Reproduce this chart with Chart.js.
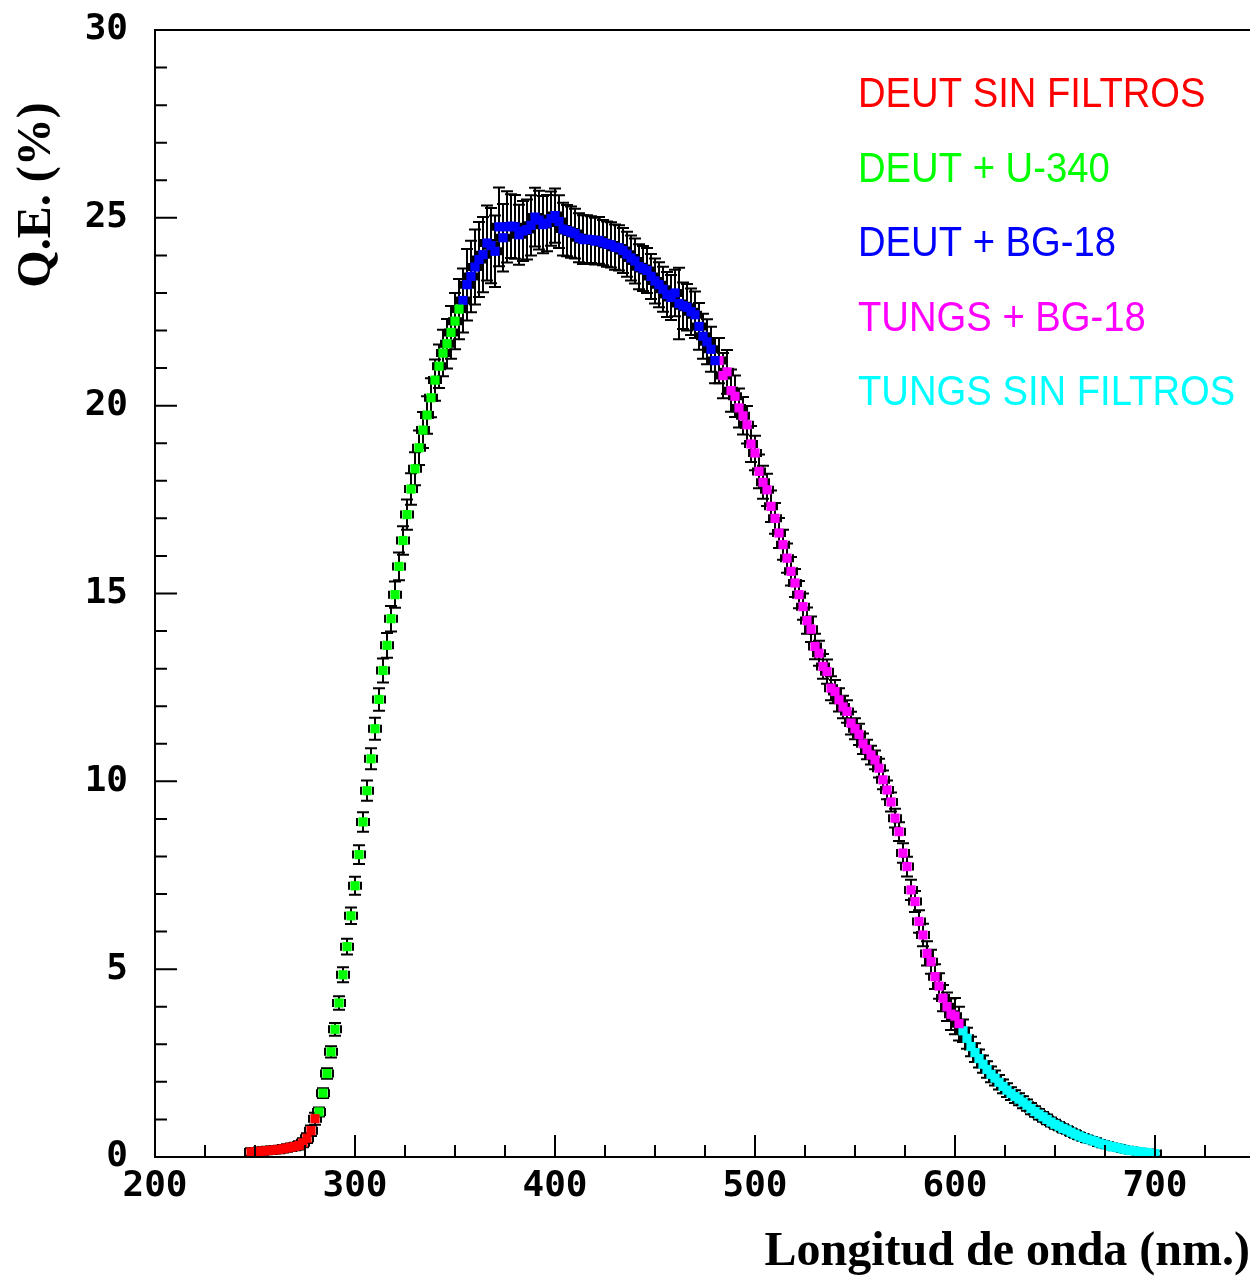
<!DOCTYPE html>
<html>
<head>
<meta charset="utf-8">
<script src="https://cdn.jsdelivr.net/npm/chart.js@4.4.1/dist/chart.umd.min.js"></script>
<style>
  html, body { margin: 0; padding: 0; background: #fff; }
</style>
</head>
<body>
<canvas id="qe" width="1250" height="1276"></canvas>
<script>
// wavelength (nm), Q.E. (%) and error, one group per lamp/filter run
const redWl  = [248,250,252,254,256,258,260,262,264,266,268,270,272,274,276,278,280];
const redQe  = [0.13,0.14,0.15,0.16,0.17,0.18,0.19,0.20,0.22,0.24,0.26,0.28,0.31,0.38,0.50,0.70,1.02];
const redErr = [0.1,0.1,0.1,0.1,0.1,0.1,0.1,0.1,0.1,0.1,0.1,0.1,0.11,0.12,0.13,0.14,0.16];

const greenWl  = [282,284,286,288,290,292,294,296,298,300,302,304,306,308,310,312,314,316,318,320,
                  322,324,326,328,330,332,334,336,338,340,342,344,346,348,350,352];
const greenQe  = [1.20,1.70,2.22,2.80,3.40,4.10,4.85,5.60,6.42,7.22,8.05,8.92,9.75,10.60,11.40,12.18,12.95,13.62,14.33,14.97,
                  15.72,16.41,17.10,17.78,18.32,18.88,19.35,19.75,20.21,20.68,21.05,21.40,21.65,21.95,22.25,22.57];
const greenErr = [0.12,0.13,0.14,0.15,0.17,0.18,0.2,0.21,0.22,0.24,0.25,0.26,0.27,0.28,0.29,0.3,0.32,0.33,0.34,0.35,
                  0.37,0.38,0.4,0.42,0.44,0.46,0.48,0.5,0.52,0.55,0.58,0.62,0.66,0.7,0.75,0.8];

const blueWl  = [354,356,358,360,362,364,366,368,370,372,374,376,378,380,382,384,386,388,390,392,394,396,398,400,
                 402,404,406,408,410,412,414,416,418,420,422,424,426,428,430,432,434,436,438,440,442,444,446,448,450,
                 452,454,456,458,460,462,464,466,468,470,472,474,476,478,480];
const blueQe  = [22.80,23.22,23.44,23.69,23.89,24.02,24.33,24.26,24.11,24.76,24.47,24.76,24.78,24.76,24.55,24.65,24.69,24.80,25.02,24.94,24.82,24.86,24.98,25.06,
                 24.90,24.70,24.66,24.62,24.58,24.47,24.42,24.43,24.42,24.38,24.40,24.34,24.30,24.28,24.22,24.20,24.13,24.03,23.93,23.85,23.70,23.65,23.60,23.44,23.32,
                 23.22,23.10,22.96,22.88,23.00,22.72,22.66,22.62,22.50,22.42,22.11,21.85,21.70,21.50,21.20];
const blueErr = [0.85,0.95,0.95,1.0,1.0,1.0,1.0,1.0,0.95,1.05,0.9,0.95,0.85,0.85,0.8,0.8,0.8,0.8,0.78,0.78,0.76,0.75,0.72,0.72,
                 0.7,0.7,0.68,0.68,0.66,0.65,0.65,0.64,0.62,0.62,0.62,0.6,0.6,0.6,0.6,0.6,0.6,0.6,0.6,0.6,0.6,0.6,0.6,0.6,0.6,
                 0.6,0.6,0.6,0.6,0.62,0.95,0.62,0.62,0.62,0.62,0.62,0.6,0.6,0.6,0.6];

const magWl  = [482,484,486,488,490,492,494,496,498,500,502,504,506,508,510,512,514,516,518,520,
                522,524,526,528,530,532,534,536,538,540,542,544,546,548,550,552,554,556,558,560,
                562,564,566,568,570,572,574,576,578,580,582,584,586,588,590,592,594,596,598,600,602];
const magQe  = [21.20,20.80,20.90,20.40,20.25,19.94,19.73,19.49,18.98,18.74,18.25,17.96,17.76,17.32,17.00,16.61,16.30,15.94,15.59,15.28,
                14.97,14.65,14.28,14.05,13.59,13.41,13.06,12.92,12.48,12.39,12.17,11.98,11.86,11.55,11.40,11.25,11.00,10.85,10.70,10.57,
                10.35,10.04,9.77,9.45,9.02,8.66,8.09,7.73,7.11,6.80,6.27,5.91,5.42,5.20,4.80,4.55,4.23,4.00,3.80,3.75,3.55];
const magErr = [0.6,0.6,0.58,0.56,0.55,0.52,0.5,0.5,0.48,0.46,0.45,0.44,0.43,0.42,0.41,0.4,0.4,0.39,0.38,0.37,
                0.36,0.35,0.35,0.34,0.34,0.33,0.33,0.32,0.32,0.31,0.31,0.3,0.3,0.3,0.28,0.28,0.27,0.26,0.25,0.25,
                0.25,0.25,0.25,0.25,0.25,0.25,0.26,0.26,0.27,0.28,0.3,0.3,0.32,0.32,0.33,0.34,0.35,0.38,0.42,0.48,0.45];

const cyanWl  = [604,606,608,610,612,614,616,618,620,622,624,626,628,630,632,634,636,638,640,642,644,646,648,650,652,
                 654,656,658,660,662,664,666,668,670,672,674,676,678,680,682,684,686,688,690,692,694,696,698,700];
const cyanQe  = [3.36,3.16,2.94,2.78,2.62,2.47,2.33,2.20,2.10,1.99,1.88,1.78,1.69,1.61,1.54,1.46,1.38,1.29,1.21,1.14,1.07,1.00,0.93,0.87,0.82,
                 0.76,0.72,0.66,0.61,0.56,0.52,0.48,0.45,0.42,0.37,0.34,0.31,0.28,0.26,0.24,0.21,0.19,0.17,0.16,0.14,0.13,0.12,0.10,0.09];
const cyanErr = [0.3,0.28,0.26,0.25,0.24,0.23,0.22,0.21,0.2,0.19,0.18,0.18,0.17,0.17,0.16,0.16,0.15,0.15,0.14,0.14,0.13,0.13,0.12,0.12,0.11,
                 0.11,0.1,0.1,0.1,0.09,0.09,0.09,0.08,0.08,0.08,0.08,0.07,0.07,0.07,0.07,0.07,0.06,0.06,0.06,0.06,0.06,0.06,0.06,0.06];

const xTicks = [200,300,400,500,600,700];
const xMinor = [225,250,275,325,350,375,425,450,475,525,550,575,625,650,675,725];
const yTicks = [0,5,10,15,20,25,30];
const yMinor = [1,2,3,4,6,7,8,9,11,12,13,14,16,17,18,19,21,22,23,24,26,27,28,29];

function pts(wl, qe){ return wl.map((w, i) => ({x: w, y: qe[i]})); }

function series(label, color, wl, qe, err){
  return {
    label: label,
    data: pts(wl, qe),
    errors: err,
    showLine: false,
    pointStyle: 'rect',
    pointRadius: 6.5,
    pointHoverRadius: 6.5,
    pointBorderWidth: 0,
    backgroundColor: color,
    borderColor: color
  };
}

// black vertical error bars with caps, drawn under the markers
const errorBars = {
  id: 'errorBars',
  beforeDatasetsDraw(chart){
    const ctx = chart.ctx, xs = chart.scales.x, ys = chart.scales.y;
    ctx.save();
    ctx.strokeStyle = '#000';
    ctx.lineWidth = 2;
    chart.data.datasets.forEach(ds => {
      ds.data.forEach((p, i) => {
        const e = ds.errors[i];
        const px = xs.getPixelForValue(p.x);
        const top = ys.getPixelForValue(p.y + e), bot = ys.getPixelForValue(p.y - e);
        const py = ys.getPixelForValue(p.y);
        ctx.beginPath();
        ctx.moveTo(px, top); ctx.lineTo(px, bot);
        ctx.moveTo(px - 6, top); ctx.lineTo(px + 6, top);
        ctx.moveTo(px - 6, bot); ctx.lineTo(px + 6, bot);
        ctx.moveTo(px - 6, py - 4); ctx.lineTo(px - 6, py + 4);
        ctx.moveTo(px + 6, py - 4); ctx.lineTo(px + 6, py + 4);
        ctx.stroke();
      });
    });
    ctx.restore();
  }
};

// frame, inward tick marks, axis titles and the text legend
const decor = {
  id: 'decor',
  afterDraw(chart){
    const ctx = chart.ctx, a = chart.chartArea, xs = chart.scales.x, ys = chart.scales.y;
    ctx.save();
    ctx.strokeStyle = '#000';
    ctx.lineWidth = 2;
    ctx.beginPath();
    ctx.moveTo(a.right, a.top); ctx.lineTo(a.left, a.top);
    ctx.lineTo(a.left, a.bottom); ctx.lineTo(a.right, a.bottom);
    xTicks.forEach(v => { const x = xs.getPixelForValue(v); ctx.moveTo(x, a.bottom); ctx.lineTo(x, a.bottom - 22); });
    xMinor.forEach(v => { const x = xs.getPixelForValue(v); ctx.moveTo(x, a.bottom); ctx.lineTo(x, a.bottom - 12); });
    yTicks.forEach(v => { const y = ys.getPixelForValue(v); ctx.moveTo(a.left, y); ctx.lineTo(a.left + 22, y); });
    yMinor.forEach(v => { const y = ys.getPixelForValue(v); ctx.moveTo(a.left, y); ctx.lineTo(a.left + 12, y); });
    ctx.stroke();

    ctx.fillStyle = '#000';
    ctx.font = 'bold 48px "Liberation Serif"';
    ctx.textAlign = 'right';
    ctx.textBaseline = 'alphabetic';
    ctx.fillText('Longitud de onda (nm.)', 1250, 1265);
    ctx.save();
    ctx.translate(50, 195);
    ctx.rotate(-Math.PI / 2);
    ctx.textAlign = 'center';
    ctx.fillText('Q.E. (%)', 0, 0);
    ctx.restore();

    ctx.font = '42px "Liberation Sans"';
    ctx.textAlign = 'left';
    chart.data.datasets.forEach((ds, i) => {
      ctx.save();
      ctx.translate(858, 107 + i * 74.5);
      ctx.scale(0.91, 1);
      ctx.fillStyle = ds.borderColor;
      ctx.fillText(ds.label, 0, 0);
      ctx.restore();
    });
    ctx.restore();
  }
};

const tickFont = { family: 'DejaVu Sans Mono', size: 36, weight: 'bold' };

new Chart(document.getElementById('qe'), {
  type: 'scatter',
  data: {
    datasets: [
      series('DEUT SIN FILTROS', '#ff0000', redWl, redQe, redErr),
      series('DEUT + U-340', '#00ff00', greenWl, greenQe, greenErr),
      series('DEUT + BG-18', '#0000ff', blueWl, blueQe, blueErr),
      series('TUNGS + BG-18', '#ff00ff', magWl, magQe, magErr),
      series('TUNGS SIN FILTROS', '#00ffff', cyanWl, cyanQe, cyanErr)
    ]
  },
  options: {
    responsive: false,
    animation: false,
    devicePixelRatio: 1,
    layout: { autoPadding: false, padding: { top: 30, left: 0, right: 0, bottom: 0 } },
    plugins: { legend: { display: false }, tooltip: { enabled: false } },
    scales: {
      x: {
        type: 'linear', min: 200, max: 747.5,
        afterBuildTicks: s => { s.ticks = xTicks.map(v => ({value: v})); },
        afterFit: s => { s.height = 119; s.paddingLeft = 0; s.paddingRight = 0; },
        grid: { display: false, drawTicks: false },
        border: { display: false },
        ticks: { color: '#000', padding: 8, maxRotation: 0, autoSkip: false, font: tickFont }
      },
      y: {
        type: 'linear', min: 0, max: 30,
        afterBuildTicks: s => { s.ticks = yTicks.map(v => ({value: v})); },
        afterFit: s => { s.width = 155; s.paddingTop = 0; s.paddingBottom = 0; },
        grid: { display: false, drawTicks: false },
        border: { display: false },
        ticks: { color: '#000', padding: 27, font: tickFont }
      }
    }
  },
  plugins: [errorBars, decor]
});
</script>
</body>
</html>
